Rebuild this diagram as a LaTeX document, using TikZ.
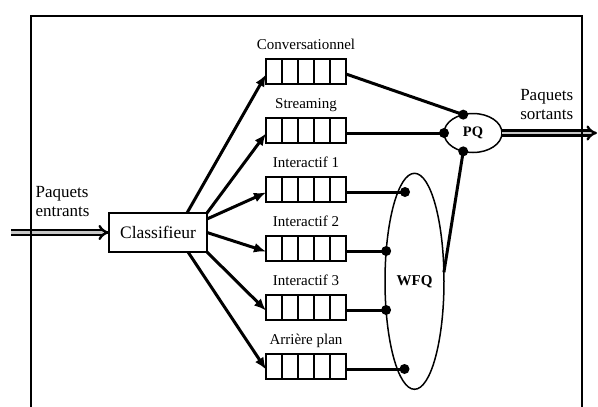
\documentclass[tikz,border=0pt]{standalone}
\usepackage{fontspec}
\setmainfont{Liberation Serif}
\usetikzlibrary{shapes.geometric,arrows.meta}

\tikzset{
  frame/.style={line width=1.8pt},
  queue/.style={draw, line width=1.5pt, minimum width=80pt, minimum height=25pt,
    inner sep=0pt, outer sep=0pt,
    path picture={\foreach \k in {1,...,4}
      \draw[line width=1.5pt] ([xshift=\k*16pt]path picture bounding box.north west)
        -- ([xshift=\k*16pt]path picture bounding box.south west);}},
  qlabel/.style={anchor=base, inner sep=0pt, font=\fontsize{15}{18}\selectfont},
  bigtext/.style={inner sep=0pt, font=\fontsize{17}{20}\selectfont},
  classbox/.style={draw, line width=1.5pt, minimum width=98pt, minimum height=39pt,
    inner sep=0pt, outer sep=0pt, font=\fontsize{17.5}{20}\selectfont},
  sched/.style={ellipse, draw, line width=1.5pt, inner sep=0pt, outer sep=0pt},
  feed/.style={line width=3pt, -{Latex[length=12pt,width=10pt]}},
  link/.style={line width=3pt},
  dot/.style={circle, fill, inner sep=0pt, minimum size=10pt},
  pipe/.style={double=gray!45, double distance=2.4pt, line width=2.4pt, -{Implies}}
}

\begin{document}
\begin{tikzpicture}[x=1pt,y=-1pt]
\useasboundingbox (0,0) rectangle (598,407);

% queues
\foreach \n/\y/\t in {1/71.5/Conversationnel, 2/130.5/Streaming, 3/189.5/Interactif 1,
                      4/248.5/Interactif 2, 5/307.5/Interactif 3, 6/366.5/Arrière plan}{
  \node[queue] (q\n) at (306,\y) {};
  \node[qlabel] (t\n) at ([yshift=10pt]q\n.north) {\t};
}

% classifier
\node[classbox] (cls) at (158,232.5) {Classifieur};

% schedulers
\node[sched, minimum width=58pt, minimum height=39pt,
      font=\bfseries\fontsize{14.5}{16}\selectfont] (PQ) at (473,133) {PQ};
\node[sched, minimum width=59pt, minimum height=216pt,
      font=\bfseries\fontsize{15}{18}\selectfont] (WFQ) at (414.5,281.3) {WFQ};

% attachment points
\node[dot] (p1) at (PQ.118) {};
\node[dot] (p2) at (PQ.west) {};
\node[dot] (p3) at (PQ.242) {};
\node[dot] (w1) at (405,192) {};
\node[dot] (w2) at (386.2,251) {};
\node[dot] (w3) at (386.1,310) {};
\node[dot] (w4) at (404.5,369) {};

% classifier to queues
\draw[feed] ([xshift=29pt]cls.north) -- ([yshift=-3pt]q1.west);
\draw[feed] (cls.north east) -- ([yshift=-3pt]q2.west);
\draw[feed] ([yshift=-6pt]cls.north east) -- ([yshift=-3pt]q3.west);
\draw[feed] (cls.east) -- ([yshift=-3pt]q4.west);
\draw[feed] (cls.south east) -- ([yshift=-3pt]q5.west);
\draw[feed] ([xshift=30pt]cls.south) -- ([yshift=-3pt]q6.west);

% queues to schedulers
\draw[link] ([yshift=-2.5pt]q1.east) -- (p1.center);
\draw[link] ([yshift=-2.5pt]q2.east) -- (p2.center);
\draw[link] ([yshift=-2.5pt]q3.east) -- (w1.center);
\draw[link] ([yshift=-2.5pt]q4.east) -- (w2.center);
\draw[link] ([yshift=-2.5pt]q5.east) -- (w3.center);
\draw[link] ([yshift=-2.5pt]q6.east) -- (w4.center);
\draw[link] (WFQ.17) -- (p3.center);

% incoming and outgoing packets
\coordinate (inpt) at (11,232.5);
\coordinate (outpt) at (597,133);
\draw[pipe] (inpt) -- (cls.west);
\draw[pipe] (PQ.east) -- (outpt);

\node[bigtext, anchor=base west] (in1) at (35.5,197.6) {Paquets};
\node[bigtext, anchor=base west] (in2) at (35.5,216.8) {entrants};
\node[bigtext, anchor=base] (out1) at (546.7,100) {Paquets};
\node[bigtext, anchor=base] (out2) at (546.7,119.5) {sortants};

% frame
\draw[frame] (31,407) -- (31,16) -- (582,16) -- (582,407);
\end{tikzpicture}
\end{document}
